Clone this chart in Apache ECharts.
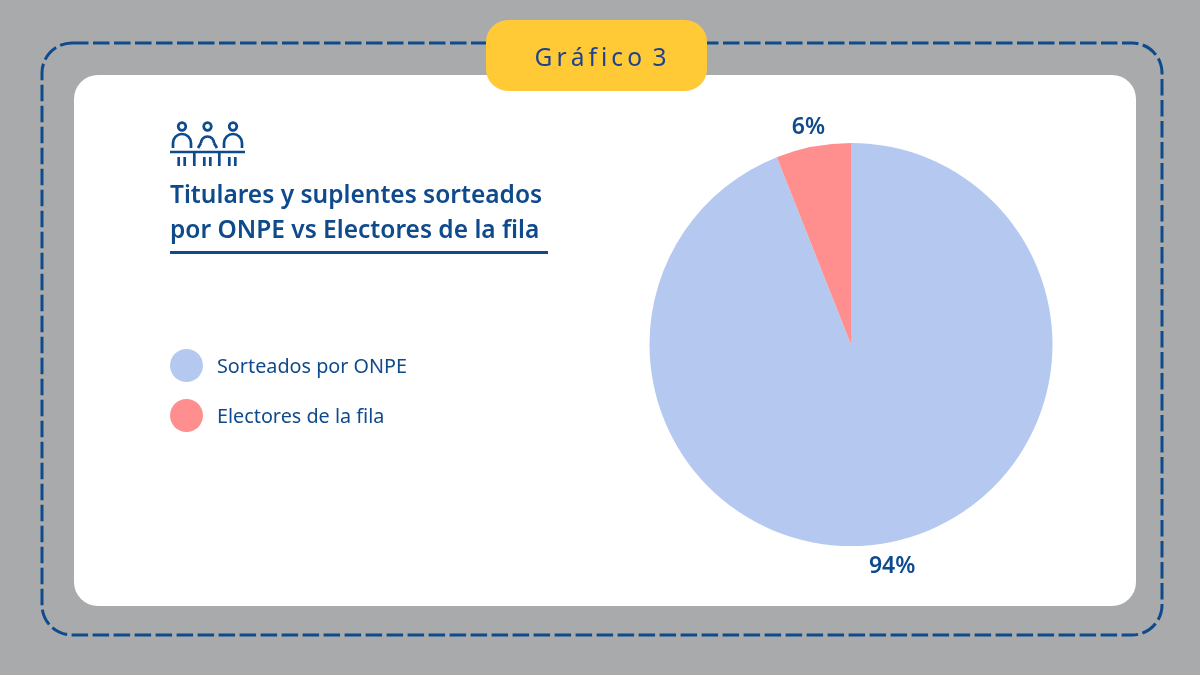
<!DOCTYPE html>
<html>
<head>
<meta charset="utf-8">
<title>Gráfico 3</title>
<script src="https://cdn.jsdelivr.net/npm/echarts@6/dist/echarts.min.js"></script>
<style>
html,body{margin:0;padding:0;background:#a9aaac;}
#main{width:1200px;height:675px;}
</style>
</head>
<body>
<div id="main"></div>
<script>
var categories = ['Sorteados por ONPE', 'Electores de la fila'];
var values = [94, 6];
var sliceColors = ['#b5c9f0', '#ff8f8f'];
var badgeText = 'G\u2009r\u2009á\u2009f\u2009i\u2009c\u2009o \u20093';
var titleText = 'Titulares y suplentes sorteados\npor ONPE vs Electores de la fila';
// desplazamiento de las etiquetas respecto a su sitio por defecto
var labelShift = [[-26, 18], [18, -13]];

var navy = '#0f4a8c';
var pieData = [];
for (var i = 0; i < categories.length; i++) {
	pieData.push({name: categories[i], value: values[i], itemStyle: {color: sliceColors[i]}});
}

// icono de la mesa: tres personas sentadas
var iconStyle = {fill: null, stroke: navy, lineWidth: 2.7};
var iconParts = [];
function iconLine(x1, y1, x2, y2) {
	iconParts.push({type: 'line', shape: {x1: x1, y1: y1, x2: x2, y2: y2}, style: iconStyle});
}
function iconBody(cx, half, slant) {
	iconParts.push({type: 'arc', shape: {cx: cx, cy: 143, r: half, startAngle: Math.PI, endAngle: 0, clockwise: true}, style: iconStyle});
	iconLine(cx - half, 143, cx - half - slant, 148);
	iconLine(cx + half, 143, cx + half + slant, 148);
}
iconBody(182, 9, 0);
iconBody(207.5, 6.5, 3);
iconBody(233, 9, 0);
[182, 207.5, 233].forEach(function (x) {
	iconParts.push({type: 'circle', shape: {cx: x, cy: 126.5, r: 3.8}, style: iconStyle});
});
iconLine(170, 152, 245, 152);
[194.3, 219.3].forEach(function (x) { iconLine(x, 152, x, 166); });
[178.7, 184.7, 204.3, 210.3, 229.3, 235.3].forEach(function (x) { iconLine(x, 157, x, 166); });

var chart = echarts.init(document.getElementById('main'));
chart.setOption({
	animation: false,
	backgroundColor: '#a9aaac',
	graphic: [
		{type: 'rect', shape: {x: 42, y: 43, width: 1120, height: 592, r: 30},
			style: {fill: null, stroke: navy, lineWidth: 3, lineDash: [16.5, 4.5]}},
		{type: 'rect', shape: {x: 74, y: 75, width: 1062, height: 531, r: 24}, style: {fill: '#fff'}},
		{type: 'rect', shape: {x: 486, y: 20, width: 221, height: 71, r: 22}, style: {fill: '#ffca35'}},
		{type: 'text', x: 600.5, y: 59, style: {text: badgeText, fill: '#1f4290', fontFamily: 'Noto Sans', fontSize: 24.5, align: 'center', verticalAlign: 'middle'}},
		{type: 'rect', shape: {x: 170, y: 251, width: 378, height: 3}, style: {fill: navy}},
		{type: 'group', children: iconParts}
	],
	title: {
		text: titleText,
		left: 170,
		top: 179,
		padding: 0,
		textStyle: {color: navy, fontFamily: 'Noto Sans', fontWeight: 600, fontSize: 24.5, lineHeight: 34.5}
	},
	legend: {
		orient: 'vertical',
		left: 170,
		top: 349,
		padding: 0,
		itemWidth: 33,
		itemHeight: 33,
		itemGap: 17,
		icon: 'circle',
		selectedMode: false,
		data: categories,
		formatter: '{t|{name}}',
		textStyle: {
			color: navy,
			fontFamily: 'Noto Sans',
			fontSize: 19.8,
			rich: {t: {color: navy, fontFamily: 'Noto Sans', fontSize: 19.8, padding: [4, 0, 0, 9]}}
		}
	},
	series: [{
		type: 'pie',
		center: [851, 344.5],
		radius: [0, 201.5],
		startAngle: 90,
		clockwise: true,
		silent: true,
		data: pieData,
		label: {
			show: true,
			position: 'outside',
			formatter: '{c}%',
			color: navy,
			fontFamily: 'Noto Sans',
			fontWeight: 600,
			fontSize: 23
		},
		labelLine: {show: false, length: 6, length2: 0},
		labelLayout: function (params) {
			return {dx: labelShift[params.dataIndex][0], dy: labelShift[params.dataIndex][1]};
		}
	}]
});
</script>
</body>
</html>
